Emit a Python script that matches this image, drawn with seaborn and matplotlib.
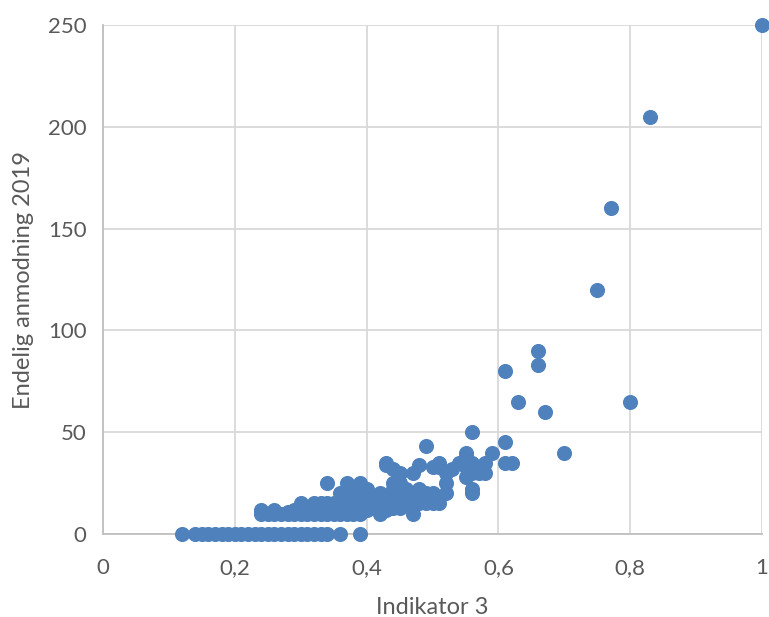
import matplotlib
matplotlib.use("Agg")
import matplotlib.pyplot as plt
import seaborn as sns
import pandas as pd

# Values
zero_x = [0.12, 0.14, 0.15, 0.16, 0.17, 0.18, 0.19, 0.20, 0.21, 0.22, 0.23,
          0.24, 0.25, 0.26, 0.27, 0.28, 0.29, 0.30, 0.31, 0.32, 0.33, 0.34,
          0.36, 0.39]

cluster_x = [0.24, 0.24, 0.25, 0.26, 0.26, 0.27, 0.28, 0.28, 0.29, 0.29,
             0.30, 0.30, 0.30, 0.31, 0.31, 0.32, 0.32, 0.32, 0.33, 0.33,
             0.33, 0.34, 0.34, 0.34, 0.34, 0.35, 0.35, 0.35, 0.36, 0.36,
             0.36, 0.36, 0.37, 0.37, 0.37, 0.37, 0.37, 0.38, 0.38, 0.38,
             0.38, 0.38, 0.39, 0.39, 0.39, 0.39, 0.39, 0.40, 0.40, 0.40,
             0.40, 0.41, 0.41, 0.42, 0.42, 0.42, 0.42, 0.43, 0.43, 0.43,
             0.43, 0.44, 0.44, 0.44, 0.44, 0.44, 0.45, 0.45, 0.45, 0.45,
             0.45, 0.46, 0.46, 0.46, 0.47, 0.47, 0.47, 0.47, 0.48, 0.48,
             0.48, 0.49, 0.49, 0.49, 0.49, 0.50, 0.50, 0.50, 0.51, 0.51,
             0.51, 0.52, 0.52, 0.52, 0.53, 0.54, 0.55, 0.55, 0.55, 0.55,
             0.56, 0.56, 0.56, 0.56, 0.56, 0.57, 0.57, 0.58, 0.58, 0.59,
             0.61, 0.61, 0.62, 0.70]
cluster_y = [10, 12, 10, 10, 12, 10, 10, 11, 10, 12,
             10, 13, 15, 10, 12, 10, 13, 15, 10, 12,
             15, 10, 12, 15, 25, 10, 12, 15, 10, 13,
             15, 20, 10, 12, 15, 22, 25, 10, 13, 15,
             18, 22, 10, 12, 15, 20, 25, 12, 15, 18,
             22, 13, 15, 10, 15, 18, 20, 12, 15, 34,
             35, 13, 18, 22, 25, 32, 13, 15, 20, 25,
             30, 15, 18, 22, 10, 15, 20, 30, 15, 22,
             34, 15, 18, 20, 43, 15, 20, 33, 15, 33,
             35, 20, 25, 30, 32, 35, 28, 33, 38, 40,
             20, 22, 30, 35, 50, 30, 33, 30, 35, 40,
             35, 45, 35, 40]

outlier_x = [0.61, 0.63, 0.66, 0.66, 0.67, 0.75, 0.77, 0.80, 0.83, 1.00]
outlier_y = [80, 65, 90, 83, 60, 120, 160, 65, 205, 250]

x_vals = zero_x + cluster_x + outlier_x
y_vals = [0] * len(zero_x) + cluster_y + outlier_y
df = pd.DataFrame({"Indikator 3": x_vals, "Endelig anmodning 2019": y_vals})

x_ticks = [0, 0.2, 0.4, 0.6, 0.8, 1]
x_labels = ["0", "0,2", "0,4", "0,6", "0,8", "1"]
y_ticks = [0, 50, 100, 150, 200, 250]

sns.set_style("white")
plt.rcParams["font.family"] = ["Lato", "DejaVu Sans"]

text_color = "#595959"
grid_color = "#d9d9d9"

fig = plt.figure(figsize=(7.69, 6.17), dpi=100)
ax = fig.add_axes([0.134, 0.1345, 0.857, 0.825])

sns.scatterplot(data=df, x="Indikator 3", y="Endelig anmodning 2019",
                color="#4f81bd", s=118, linewidth=0, alpha=1.0,
                clip_on=False, zorder=3, ax=ax)

ax.set_xlim(0, 1)
ax.set_ylim(0, 250)
ax.set_xticks(x_ticks)
ax.set_xticklabels(x_labels)
ax.set_yticks(y_ticks)
ax.grid(True, color=grid_color, linewidth=1.3)
ax.set_axisbelow(True)

for side in ["top", "right"]:
    ax.spines[side].set_visible(False)
for side in ["left", "bottom"]:
    ax.spines[side].set_color("#bfbfbf")
    ax.spines[side].set_linewidth(1.3)

ax.tick_params(axis="both", length=0, labelsize=16, colors=text_color)
ax.tick_params(axis="y", pad=12)
ax.tick_params(axis="x", pad=17)
ax.set_xlabel("Indikator 3", fontsize=17, color=text_color, labelpad=14)
ax.set_ylabel("Endelig anmodning 2019", fontsize=17, color=text_color, labelpad=10)

fig.savefig("out.png", dpi=100)
